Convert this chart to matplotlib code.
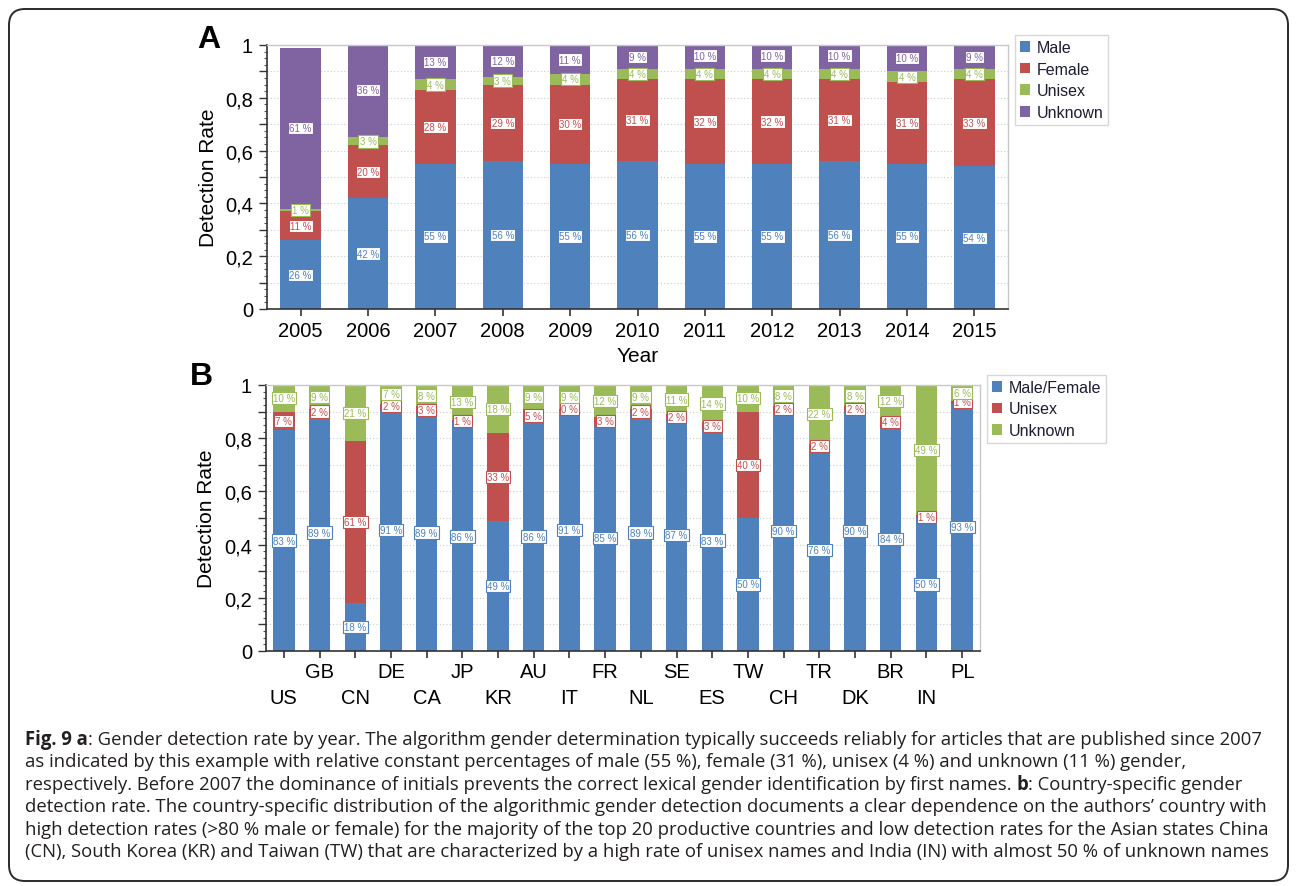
import matplotlib.pyplot as plt
from matplotlib.patches import FancyBboxPatch
from matplotlib.ticker import MultipleLocator, FuncFormatter
import numpy as np

# Panel A: detection rate by publication year (percent)
years = ['2005', '2006', '2007', '2008', '2009', '2010',
         '2011', '2012', '2013', '2014', '2015']
male = [26, 42, 55, 56, 55, 56, 55, 55, 56, 55, 54]
female = [11, 20, 28, 29, 30, 31, 32, 32, 31, 31, 33]
unisex_year = [1, 3, 4, 3, 4, 4, 4, 4, 4, 4, 4]
unknown_year = [61, 36, 13, 12, 11, 9, 10, 10, 10, 10, 9]

# Panel B: detection rate by country (percent)
countries = ['US', 'GB', 'CN', 'DE', 'CA', 'JP', 'KR', 'AU', 'IT', 'FR',
             'NL', 'SE', 'ES', 'TW', 'CH', 'TR', 'DK', 'BR', 'IN', 'PL']
male_female = [83, 89, 18, 91, 89, 86, 49, 86, 91, 85,
               89, 87, 83, 50, 90, 76, 90, 84, 50, 93]
unisex_country = [7, 2, 61, 2, 3, 1, 33, 5, 0, 3,
                  2, 2, 3, 40, 2, 2, 2, 4, 1, 1]
unknown_country = [10, 9, 21, 7, 8, 13, 18, 9, 9, 12,
                   9, 11, 14, 10, 8, 22, 8, 12, 49, 6]

BLUE = '#4F81BD'
RED = '#C0504D'
GREEN = '#9BBB59'
PURPLE = '#8064A2'

W, H = 1296, 887
plt.rcParams['font.family'] = ['Liberation Sans', 'DejaVu Sans']

fig = plt.figure(figsize=(W / 100, H / 100), dpi=100)

# overlay used for the caption text
cap = fig.add_axes([0, 0, 1, 1])
cap.set_axis_off()
cap.set_xlim(0, W)
cap.set_ylim(H, 0)


def px_rect(left, top, right, bottom):
    return [left / W, 1 - bottom / H, (right - left) / W, (bottom - top) / H]


def tick_fmt(v, pos):
    k = int(round(v * 10))
    if k % 2:
        return ''
    if k == 0:
        return '0'
    if k == 10:
        return '1'
    return f'{v:.1f}'.replace('.', ',')


def stacked(ax, series, colors, names):
    x = np.arange(len(series[0]))
    bottom = np.zeros(len(x))
    handles = []
    for vals, col, name in zip(series, colors, names):
        frac = np.array(vals) / 100.0
        b = ax.bar(x, frac, 0.6, bottom=bottom, color=col, label=name,
                   linewidth=0, zorder=2)
        handles.append(b)
        for xi, b0, h, v in zip(x, bottom, frac, vals):
            ax.text(xi, b0 + h / 2, f'{v} %', ha='center', va='center',
                    fontsize=7, color=col, zorder=4,
                    bbox=dict(boxstyle='square,pad=0.12', fc='white',
                              ec=col, lw=0.8))
        bottom += frac
    return handles


def style(ax, n):
    ax.set_xlim(-0.5, n - 0.5)
    ax.set_ylim(0, 1)
    ax.yaxis.set_major_locator(MultipleLocator(0.1))
    ax.yaxis.set_minor_locator(MultipleLocator(0.025))
    ax.yaxis.set_major_formatter(FuncFormatter(tick_fmt))
    ax.grid(axis='y', which='major', linestyle=(0, (1, 2)),
            color='#cccccc', lw=0.8, zorder=0)
    ax.set_axisbelow(True)
    for s in ('left', 'bottom'):
        ax.spines[s].set_color('#333333')
        ax.spines[s].set_linewidth(1.2)
    for s in ('top', 'right'):
        ax.spines[s].set_color('#c8c8c8')
        ax.spines[s].set_linewidth(1.0)
    ax.tick_params(axis='y', which='major', length=6, width=1,
                   color='#333333', labelsize=14.5, pad=4)
    ax.tick_params(axis='y', which='minor', length=2.5, width=0.8,
                   color='#555555')
    ax.tick_params(axis='x', which='both', length=5, width=1.2,
                   color='#333333', labelsize=14.5)


def legend(handles, labels, left, top):
    leg = fig.legend(handles, labels, loc='upper left',
                     bbox_to_anchor=(left / W, 1 - top / H),
                     bbox_transform=fig.transFigure, frameon=True,
                     fancybox=False, edgecolor='#cfcfcf', fontsize=11.5,
                     handlelength=0.65, handleheight=0.65,
                     handletextpad=0.4, labelspacing=0.42, borderpad=0.3,
                     borderaxespad=0)
    leg.get_frame().set_linewidth(1.0)
    for t in leg.get_texts():
        t.set_color('#1c1c33')


# ---- panel A ----
ax1 = fig.add_axes(px_rect(267, 46, 1008, 310))
h1 = stacked(ax1, [male, female, unisex_year, unknown_year],
             [BLUE, RED, GREEN, PURPLE],
             ['Male', 'Female', 'Unisex', 'Unknown'])
style(ax1, len(years))
ax1.set_xticks(np.arange(len(years)), years)
ax1.tick_params(axis='x', pad=3.5)
ax1.set_xlabel('Year', fontsize=15)
ax1.xaxis.set_label_coords(0.5, -0.14)
ax1.set_ylabel('Detection Rate', fontsize=15)
ax1.yaxis.set_label_coords((218 - 267) / 741, 0.5)
legend(h1, ['Male', 'Female', 'Unisex', 'Unknown'], 1015, 36)

# ---- panel B ----
ax2 = fig.add_axes(px_rect(266, 386, 980, 652))
h2 = stacked(ax2, [male_female, unisex_country, unknown_country],
             [BLUE, RED, GREEN], ['Male/Female', 'Unisex', 'Unknown'])
style(ax2, len(countries))
idx = np.arange(len(countries))
ax2.set_xticks(idx[1::2], countries[1::2])
ax2.set_xticks(idx[0::2], countries[0::2], minor=True)
ax2.tick_params(axis='x', which='major', pad=3)
ax2.tick_params(axis='x', which='minor', pad=22)
ax2.set_ylabel('Detection Rate', fontsize=15)
ax2.yaxis.set_label_coords((216 - 266) / 714, 0.5)
legend(h2, ['Male/Female', 'Unisex', 'Unknown'], 987, 376)

# panel letters
fig.text(197 / W, 1 - 40 / H, 'A', fontsize=23, fontweight='bold',
         va='center', ha='left')
fig.text(190 / W, 1 - 377 / H, 'B', fontsize=23, fontweight='bold',
         va='center', ha='left')

# ---- caption ----
caption = [
    [('Fig. 9 a', True, 0),
     (': Gender detection rate by year. The algorithm gender determination '
      'typically succeeds reliably for articles that are published since 2007',
      False, 0)],
    [('as indicated by this example with relative constant percentages of male '
      '(55 %), female (31 %), unisex (4 %) and unknown (11 %) gender,', False, 0)],
    [('respectively. Before 2007 the dominance of initials prevents the correct '
      'lexical gender identification by first names.', False, 0),
     ('b', True, 3.6),
     (': Country-specific gender', False, 0)],
    [('detection rate. The country-specific distribution of the algorithmic '
      'gender detection documents a clear dependence on the authors\u2019 '
      'country with', False, 0)],
    [('high detection rates (>80 % male or female) for the majority of the top '
      '20 productive countries and low detection rates for the Asian states '
      'China', False, 0)],
    [('(CN), South Korea (KR) and Taiwan (TW) that are characterized by a high '
      'rate of unisex names and India (IN) with almost 50 % of unknown names',
      False, 0)],
]
cap_font = dict(family=['Open Sans', 'DejaVu Sans'], fontsize=13.35,
                color='#231f20')
for i, line in enumerate(caption):
    y = 740 + 22.4 * i
    prev = None
    for txt, bold, gap in line:
        weight = 'bold' if bold else 'normal'
        if prev is None:
            prev = cap.text(25, y, txt, ha='left', va='center',
                            fontweight=weight, **cap_font)
        else:
            prev = cap.annotate(txt, xy=(1, 0.5), xycoords=prev,
                                xytext=(gap, 0), textcoords='offset points',
                                ha='left', va='center', fontweight=weight,
                                **cap_font)

# rounded frame around the whole figure
frame = FancyBboxPatch((0.09, 0.05), 12.79, 8.72,
                       boxstyle='round,pad=0,rounding_size=0.16',
                       transform=fig.dpi_scale_trans, fill=False,
                       ec='#2a2a2a', lw=1.4)
fig.add_artist(frame)

fig.savefig('out.png', dpi=100)
